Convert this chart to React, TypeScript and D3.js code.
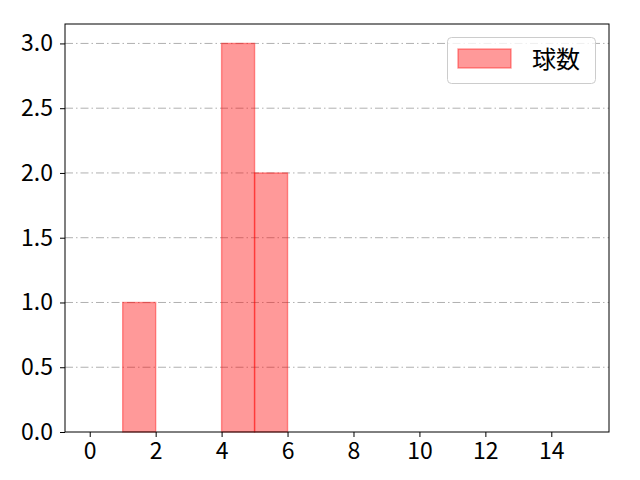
import React, { useEffect, useRef } from 'react';
import * as d3 from 'd3';

// histogram bins (lower edge, width 1) and counts
const binStarts = [0, 1, 2, 3, 4, 5, 6, 7, 8, 9, 10, 11, 12, 13, 14];
const counts = [0, 1, 0, 0, 3, 2, 0, 0, 0, 0, 0, 0, 0, 0, 0];
const xTicks = [0, 2, 4, 6, 8, 10, 12, 14];
const yTicks = [0, 0.5, 1.0, 1.5, 2.0, 2.5, 3.0];
const seriesLabel = '球数';

const App: React.FC = () => {
  const svgRef = useRef<SVGSVGElement>(null);

  useEffect(() => {
    if (!svgRef.current) return;
    const width = 640;
    const height = 480;
    const margin = { top: 24, right: 31, bottom: 48, left: 65 };
    const font = '"Noto Sans CJK JP", "Noto Sans", sans-serif';

    const svg = d3.select(svgRef.current);
    svg.selectAll('*').remove();

    const x = d3.scaleLinear()
      .domain([-0.75, 15.75])
      .range([margin.left, width - margin.right]);
    const y = d3.scaleLinear()
      .domain([0, 3.15])
      .range([height - margin.bottom, margin.top]);

    // grid
    svg.append('g')
      .selectAll('line')
      .data(yTicks.filter(t => t > 0))
      .join('line')
        .attr('x1', margin.left)
        .attr('x2', width - margin.right)
        .attr('y1', d => y(d))
        .attr('y2', d => y(d))
        .attr('stroke', '#b0b0b0')
        .attr('stroke-width', 1)
        .attr('stroke-dasharray', '8,3,1.5,3');

    // bars
    const data = binStarts.map((b, i) => ({ x0: b, x1: b + 1, n: counts[i] }))
      .filter(d => d.n > 0);
    svg.append('g')
      .selectAll('rect')
      .data(data)
      .join('rect')
        .attr('x', d => x(d.x0))
        .attr('y', d => y(d.n))
        .attr('width', d => x(d.x1) - x(d.x0))
        .attr('height', d => y(0) - y(d.n))
        .attr('fill', 'red')
        .attr('fill-opacity', 0.4)
        .attr('stroke', 'red')
        .attr('stroke-opacity', 0.4)
        .attr('stroke-width', 1.4);

    // axes
    const xAxis = svg.append('g')
      .attr('transform', `translate(0,${height - margin.bottom})`)
      .call(d3.axisBottom(x).tickValues(xTicks).tickSize(5).tickPadding(6).tickFormat(d3.format('d')));
    const yAxis = svg.append('g')
      .attr('transform', `translate(${margin.left},0)`)
      .call(d3.axisLeft(y).tickValues(yTicks).tickSize(5).tickPadding(7).tickFormat(d3.format('.1f')));
    [xAxis, yAxis].forEach(g => {
      g.select('.domain').remove();
      g.selectAll('line').attr('stroke', '#000').attr('stroke-width', 1);
      g.selectAll('text')
        .attr('fill', '#000')
        .style('font-family', font)
        .style('font-size', '23px');
    });

    // frame
    svg.append('rect')
      .attr('x', margin.left)
      .attr('y', margin.top)
      .attr('width', width - margin.left - margin.right)
      .attr('height', height - margin.top - margin.bottom)
      .attr('fill', 'none')
      .attr('stroke', '#000')
      .attr('stroke-width', 1);

    // legend
    const lg = svg.append('g');
    lg.append('rect')
      .attr('x', 447.5).attr('y', 37.5)
      .attr('width', 148).attr('height', 46)
      .attr('rx', 4)
      .attr('fill', '#fff').attr('fill-opacity', 0.8)
      .attr('stroke', '#cccccc');
    lg.append('rect')
      .attr('x', 458).attr('y', 49)
      .attr('width', 53).attr('height', 19)
      .attr('fill', 'red').attr('fill-opacity', 0.4)
      .attr('stroke', 'red').attr('stroke-opacity', 0.4)
      .attr('stroke-width', 1.4);
    lg.append('text')
      .attr('x', 532).attr('y', 68)
      .style('font-family', font)
      .style('font-size', '24px')
      .text(seriesLabel);
  }, []);

  return (
    <svg ref={svgRef} width={640} height={480}
      style={{ position: 'absolute', left: 0, top: 0, background: '#fff' }} />
  );
};

export default App;
